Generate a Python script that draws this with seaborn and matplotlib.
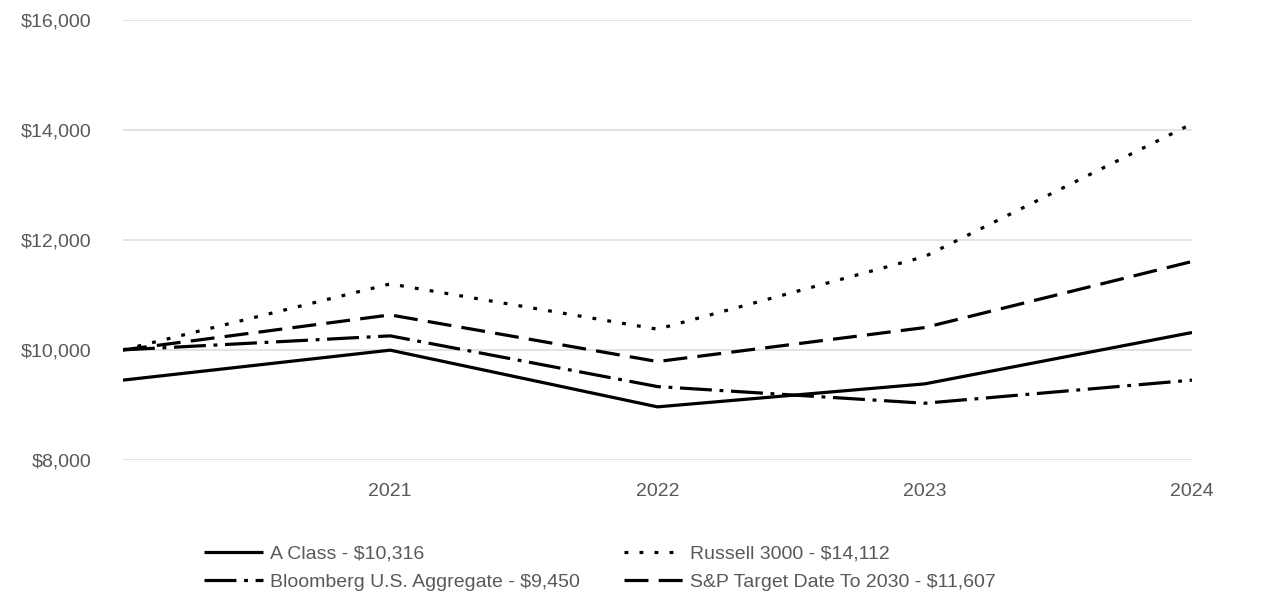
import pandas as pd
import seaborn as sns
from matplotlib import pyplot as plt
from matplotlib.ticker import FuncFormatter

# values
PERIODS = ["", "2021", "2022", "2023", "2024"]
A_CLASS = [9450, 9995, 8964, 9382, 10316]
RUSSELL_3000 = [10000, 11200, 10376, 11697, 14112]
BLOOMBERG_AGG = [10000, 10255, 9333, 9030, 9450]
SP_TARGET_2030 = [10000, 10636, 9788, 10406, 11607]

SERIES = {
    "A Class - $10,316": A_CLASS,
    "Bloomberg U.S. Aggregate - $9,450": BLOOMBERG_AGG,
    "Russell 3000 - $14,112": RUSSELL_3000,
    "S&P Target Date To 2030 - $11,607": SP_TARGET_2030,
}

DASHES = {
    "A Class - $10,316": "",
    "Bloomberg U.S. Aggregate - $9,450": (10, 2.4, 1.2, 2.4),
    "Russell 3000 - $14,112": (1.2, 3.5),
    "S&P Target Date To 2030 - $11,607": (7.5, 3.2),
}

rows = []
for name, vals in SERIES.items():
    for i, v in enumerate(vals):
        rows.append({"pos": i, "value": v, "series": name})
df = pd.DataFrame(rows)

sns.set_theme(style="white")
plt.rcParams['font.family'] = ['Liberation Sans', 'DejaVu Sans']

fig = plt.figure(figsize=(12.86, 6.14), dpi=100)
ax = fig.add_axes([0.0956, 0.251, 0.8313, 0.7166])

sns.lineplot(data=df, x="pos", y="value", hue="series", style="series",
             palette={k: "black" for k in SERIES}, dashes=DASHES,
             linewidth=2.3, ax=ax, legend=True)
for line in ax.lines:
    line.set_dash_capstyle("butt")
    line.set_solid_capstyle("butt")

ax.set_xlim(0, len(PERIODS) - 1)
ax.set_ylim(8000, 16000)
ax.set_xticks(range(len(PERIODS)))
ax.set_xticklabels(PERIODS)
ax.set_yticks([8000, 10000, 12000, 14000, 16000])
ax.yaxis.set_major_formatter(FuncFormatter(lambda v, p: f"${v:,.0f}"))
ax.tick_params(axis="both", length=0, labelsize=14, labelcolor="#595959")
ax.tick_params(axis="y", pad=23)
ax.tick_params(axis="x", pad=17)
ax.set_xlabel("")
ax.set_ylabel("")
ax.grid(axis="y", color="#dedede", linewidth=1.2)
ax.grid(axis="x", visible=False)
sns.despine(ax=ax, left=True, bottom=True)

handles, labels = ax.get_legend_handles_labels()
ax.get_legend().remove()
for h in handles:
    h.set_dash_capstyle("butt")
    h.set_linewidth(2.3)
leg = fig.legend(handles, labels, loc="upper left", bbox_to_anchor=(0.159, 0.112),
                 ncol=2, frameon=False, fontsize=14, handlelength=3.0,
                 handletextpad=0.36, columnspacing=2.3, labelspacing=0.55,
                 borderaxespad=0, borderpad=0)
for t in leg.get_texts():
    t.set_color("#595959")

fig.savefig("out.png", dpi=100)
